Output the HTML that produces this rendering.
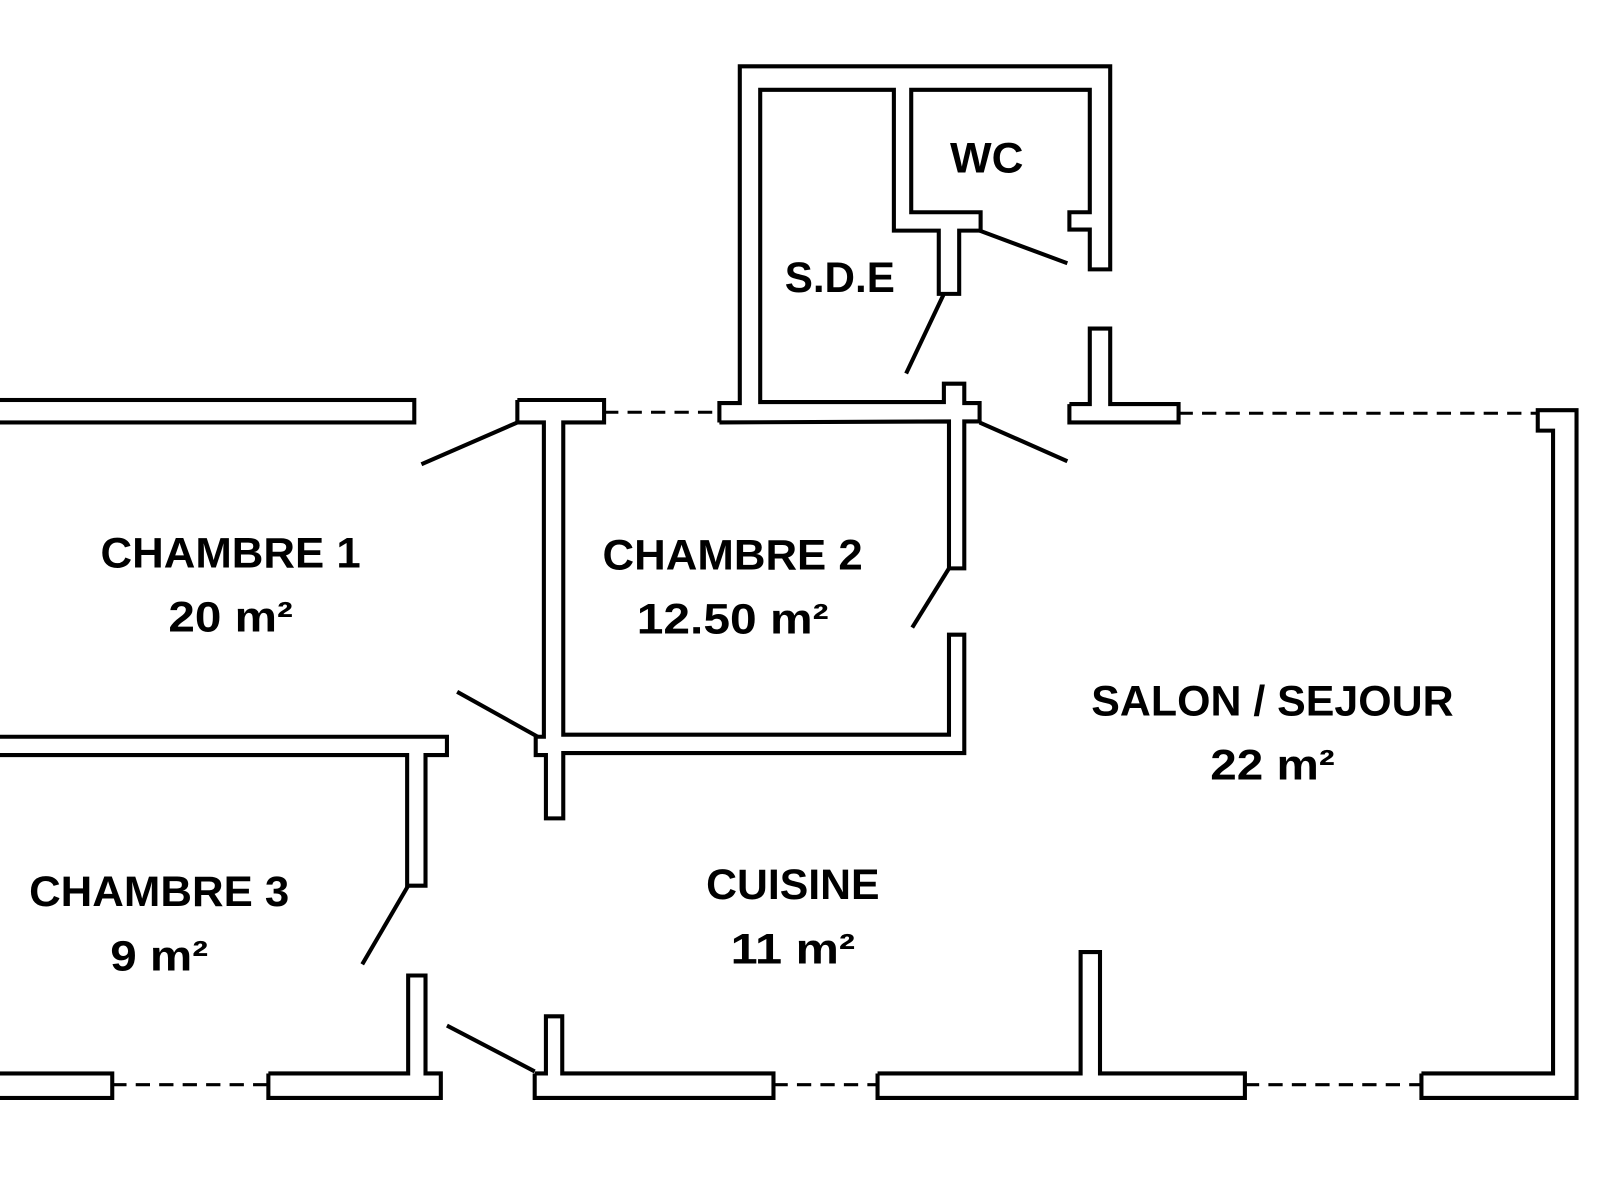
<!DOCTYPE html>
<html><head><meta charset="utf-8"><style>html,body{margin:0;padding:0;background:#fff}svg{display:block}</style></head>
<body>
<svg width="1600" height="1200" viewBox="0 0 1568 1176" xmlns="http://www.w3.org/2000/svg">
<g fill="none" stroke="#000" stroke-width="4" stroke-linejoin="miter">
<!-- top SDE/WC block -->
<polyline points="705,414 705,395 725,395 725,65 1088,65 1088,264 1068,264 1068,225 1048,225 1048,208 1068,208 1068,88 893,88 893,208 961,208 961,226 940,226 940,288 920,288 920,226 876,226 876,88 745,88 745,394 925,394 925,376 945,376 945,395 960,395 960,413 945,413 945,557 930,557 930,413 705,414"/>
<!-- chambre1 top -->
<rect x="-5" y="392" width="411" height="22"/>
<!-- T left of chambre2 -->
<polyline points="507,392 592,392 592,414 552,414 552,720 930,720 930,622 945,622 945,738 552,738 552,802 535,802 535,740 525,740 525,722 533,722 533,414 507,414 507,392"/>
<!-- chambre3 top wall -->
<polyline points="-5,722 438,722 438,740 417,740 417,868 399,868 399,740 -5,740"/>
<!-- bottom walls -->
<rect x="-5" y="1052" width="115" height="24"/>
<polyline points="263,1052 400,1052 400,956 417,956 417,1052 432,1052 432,1076 263,1076 263,1052"/>
<polyline points="524,1052 535,1052 535,996 551,996 551,1052 758,1052 758,1076 524,1076 524,1052"/>
<polyline points="860,1052 1059,1052 1059,933 1078,933 1078,1052 1220,1052 1220,1076 860,1076 860,1052"/>
<polyline points="1393,1052 1522,1052 1522,422 1507,422 1507,402 1545,402 1545,1076 1393,1076 1393,1052"/>
<polyline points="1048,396 1068,396 1068,322 1088,322 1088,396 1155,396 1155,414 1048,414 1048,396"/>
<!-- doors -->
<line x1="413" y1="455" x2="507" y2="414"/>
<line x1="448" y1="678" x2="527" y2="722"/>
<line x1="894" y1="615" x2="930" y2="557"/>
<line x1="355" y1="945" x2="400" y2="868"/>
<line x1="438" y1="1005" x2="524" y2="1050"/>
<line x1="888" y1="366" x2="925" y2="288"/>
<line x1="960" y1="226" x2="1046" y2="258"/>
<line x1="960" y1="414" x2="1046" y2="452"/>
</g>
<g stroke="#000" stroke-width="3" stroke-dasharray="14,9">
<line x1="110" y1="1063" x2="263" y2="1063"/>
<line x1="758" y1="1063" x2="860" y2="1063"/>
<line x1="1220" y1="1063" x2="1393" y2="1063"/>
<line x1="592" y1="404" x2="705" y2="404"/>
<line x1="1155" y1="405" x2="1507" y2="405"/>
</g>
<g font-family="Liberation Sans, sans-serif" font-weight="bold" font-size="42" text-anchor="middle" fill="#000">
<text x="226" y="556" textLength="255" lengthAdjust="spacingAndGlyphs">CHAMBRE 1</text>
<text x="226" y="619" textLength="122" lengthAdjust="spacingAndGlyphs">20 m²</text>
<text x="718" y="558" textLength="255" lengthAdjust="spacingAndGlyphs">CHAMBRE 2</text>
<text x="718" y="621" textLength="188" lengthAdjust="spacingAndGlyphs">12.50 m²</text>
<text x="1247" y="701" textLength="355" lengthAdjust="spacingAndGlyphs">SALON / SEJOUR</text>
<text x="1247" y="764" textLength="122" lengthAdjust="spacingAndGlyphs">22 m²</text>
<text x="777" y="881" textLength="170" lengthAdjust="spacingAndGlyphs">CUISINE</text>
<text x="777" y="944" textLength="122" lengthAdjust="spacingAndGlyphs">11 m²</text>
<text x="156" y="888" textLength="255" lengthAdjust="spacingAndGlyphs">CHAMBRE 3</text>
<text x="156" y="951" textLength="96" lengthAdjust="spacingAndGlyphs">9 m²</text>
<text x="823" y="286" textLength="108" lengthAdjust="spacingAndGlyphs">S.D.E</text>
<text x="967" y="169" textLength="72" lengthAdjust="spacingAndGlyphs">WC</text>
</g>
</svg>
</body></html>
